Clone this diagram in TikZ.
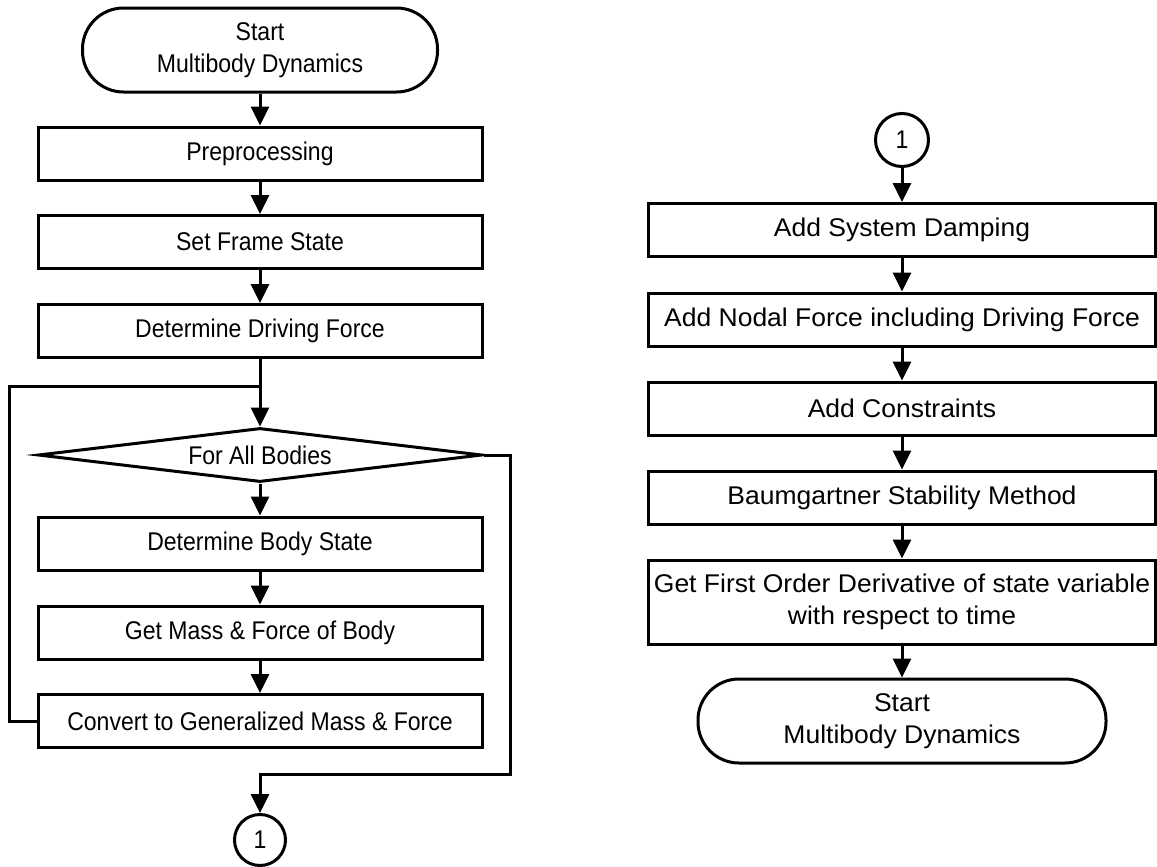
\documentclass[tikz,border=0pt]{standalone}
\usepackage{fontspec}
\setmainfont{Liberation Sans}[FakeStretch=0.9]
\newfontfamily\widefont{Liberation Sans}[FakeStretch=1.035]
\usetikzlibrary{shapes.geometric,arrows.meta}
\begin{document}
\begin{tikzpicture}[x=0.5pt,y=-0.5pt,
  every node/.style={font=\fontsize{12.8}{16}\selectfont, inner sep=0pt},
  box/.style={draw, line width=1.5pt, minimum width=222pt, minimum height=26.5pt, align=center},
  rbox/.style={box, minimum width=253.5pt, font=\widefont\fontsize{12.8}{16}\selectfont},
  term/.style={draw, line width=1.5pt, rounded corners=20.5pt, minimum height=42pt, align=center},
  conn/.style={draw, line width=1.5pt, circle, minimum size=25.5pt},
  flow/.style={line width=1.5pt, -{Triangle[width=9pt,length=9.5pt]}},
  plain/.style={line width=1.5pt}]
\useasboundingbox (0,0) rectangle (1157,867);
% left column
\node[term, minimum width=177.5pt] (start) at (260,50) {Start\\Multibody Dynamics};
\node[box] (pre) at (260,153.5) {Preprocessing};
\node[box] (frame) at (260,242) {Set Frame State};
\node[box] (drive) at (260,331) {Determine Driving Force};
\node[diamond, draw, line width=1.5pt, aspect=8.2, minimum width=222pt, minimum height=27pt] (all) at (260,455) {For All Bodies};
\node[box] (body) at (260,543.5) {Determine Body State};
\node[box] (mass) at (260,632.5) {Get Mass \& Force of Body};
\node[box] (conv) at (260,721) {Convert to Generalized Mass \& Force};
\node[conn] (c1) at (260,840) {1};
\coordinate (j) at (260,386);
\coordinate (lft) at (9,386);
\coordinate (rgt) at (510,774);
% right column
\node[conn, minimum size=26.5pt] (c2) at (902,140) {1};
\node[rbox] (damp) at (902,230) {Add System Damping};
\node[rbox] (nodal) at (902,319.5) {Add Nodal Force including Driving Force};
\node[rbox] (cons) at (902,408.5) {Add Constraints};
\node[rbox] (baum) at (902,497.5) {Baumgartner Stability Method};
\node[rbox, minimum height=42pt] (deriv) at (902,602) {Get First Order Derivative of state variable\\with respect to time};
\node[term, minimum width=204pt, font=\widefont\fontsize{12.8}{16}\selectfont] (end) at (902,721) {Start\\Multibody Dynamics};
% connectors
\draw[flow] (start) -- (pre);
\draw[flow] (pre) -- (frame);
\draw[flow] (frame) -- (drive);
\draw[flow] (drive) -- (all);
\draw[plain] (conv.west) -| (lft) -- (j);
\draw[flow] (all) -- (body);
\draw[flow] (body) -- (mass);
\draw[flow] (mass) -- (conv);
\draw[flow] (all.east) -| (rgt) -| (c1);
\draw[flow] (c2) -- (damp);
\draw[flow] (damp) -- (nodal);
\draw[flow] (nodal) -- (cons);
\draw[flow] (cons) -- (baum);
\draw[flow] (baum) -- (deriv);
\draw[flow] (deriv) -- (end);
\end{tikzpicture}
\end{document}
